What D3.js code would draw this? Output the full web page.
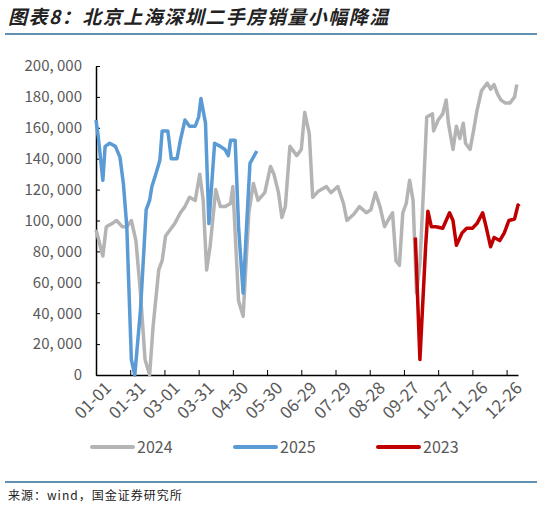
<!DOCTYPE html>
<html><head><meta charset="utf-8">
<script src="https://cdn.jsdelivr.net/npm/d3@7"></script>
<style>body{margin:0;background:#fff;}</style>
</head><body><div id="container"></div>
<script>
// day-of-year, value
let s2024 = [[0,94000],[6,77000],[9,96000],[14,98000],[18,100000],[23,96000],[27,96000],[31,100000],[35,87000],[39,53000],[43,10000],[47,0],[50,31000],[55,68000],[58,74000],[61,90000],[65,94000],[69,98000],[74,105000],[78,109000],[82,115000],[87,113000],[91,130000],[94,113000],[97,68000],[100,83000],[105,120000],[109,109000],[113,109000],[118,111000],[120,122000],[125,48000],[129,38000],[134,105000],[138,124000],[142,113000],[148,118000],[153,135000],[156,130000],[160,118000],[163,102000],[166,109000],[170,148000],[176,142000],[180,146000],[183,170000],[187,156000],[190,115000],[195,119000],[202,122000],[206,118000],[212,122000],[217,111000],[220,100000],[226,104000],[231,109000],[237,105000],[241,107000],[245,118000],[249,109000],[253,96000],[256,100000],[260,105000],[263,74000],[266,71000],[269,105000],[272,111000],[275,126000],[278,113000],[281,53000],[284,72000],[287,118000],[290,167000],[295,169000],[296,158000],[300,165000],[304,169000],[307,178000],[309,163000],[313,146000],[316,161000],[319,153000],[322,163000],[324,150000],[328,146000],[331,158000],[334,171000],[338,184000],[343,189000],[346,185000],[349,188000],[352,182000],[355,178000],[359,176000],[363,176000],[367,180000],[369,188000]];
let s2025 = [[0,165000],[2,154000],[6,126000],[8,148000],[12,150000],[17,148000],[21,141000],[24,124000],[27,96000],[31,10000],[34,0],[39,42000],[44,107000],[47,113000],[49,122000],[52,129000],[56,139000],[58,158000],[63,158000],[66,140000],[71,140000],[74,152000],[78,165000],[82,161000],[87,161000],[90,167000],[92,179000],[96,163000],[99,98000],[104,150000],[109,148000],[113,146000],[116,142000],[118,152000],[122,152000],[125,96000],[129,53000],[132,96000],[135,137000],[141,145000]];
let s2023 = [[280,89000],[284,10000],[289,83000],[291,106000],[294,96000],[298,96000],[304,95000],[310,105000],[313,100000],[316,84000],[321,92000],[325,95000],[330,95000],[334,98000],[339,105000],[342,96000],[346,83000],[349,89000],[354,87000],[358,92000],[362,100000],[367,101000],[370,110000],[371,109000]];
let tickLabels = ["01-01","01-31","03-01","03-31","04-30","05-30","06-29","07-29","08-28","09-27","10-27","11-26","12-26"];
let yTicks = [0,20000,40000,60000,80000,100000,120000,140000,160000,180000,200000];

let w = 541, h = 509;
let svg = d3.select("#container").append("svg").attr("width", w).attr("height", h);

svg.append("text").attr("x", 8).attr("y", 24)
  .style("font-family", "Noto Sans CJK SC").style("font-size", "19px")
  .style("letter-spacing", "1.5px")
  .style("font-weight", "bold").style("font-style", "italic").attr("fill", "#222")
  .text("图表8：北京上海深圳二手房销量小幅降温");
svg.append("line").attr("x1", 5).attr("x2", 537).attr("y1", 34).attr("y2", 34)
  .attr("stroke", "#2d6b96").attr("stroke-width", 1.5);
svg.append("line").attr("x1", 5).attr("x2", 537).attr("y1", 482).attr("y2", 482)
  .attr("stroke", "#2d6b96").attr("stroke-width", 1.5);
svg.append("text").attr("x", 8).attr("y", 500)
  .style("font-family", "Noto Sans CJK SC").style("font-size", "12px").attr("fill", "#222")
  .style("letter-spacing", "1px")
  .text("来源：wind，国金证券研究所");

let x = d3.scaleLinear().domain([0, 370]).range([96, 518]);
let y = d3.scaleLinear().domain([0, 200000]).range([375, 66]);

let yAxis = svg.append("g").attr("transform", "translate(96,0)")
  .call(d3.axisLeft(y).tickValues(yTicks).tickSize(4).tickSizeOuter(0)
    .tickFormat(d => d3.format(",")(d).replace(",", ", ")));
yAxis.selectAll("line").attr("x2", 4).attr("stroke", "#000");
yAxis.select(".domain").attr("stroke", "#000").attr("stroke-width", 1.5);
yAxis.selectAll("text").attr("x", -14).attr("fill", "#595959")
  .style("font-family", "Noto Sans CJK SC").style("font-size", "15px");

let xAxis = svg.append("g").attr("transform", "translate(0,375)")
  .call(d3.axisBottom(x).tickValues(d3.range(0, 361, 30)).tickSize(-5).tickSizeOuter(0)
    .tickFormat((d, i) => tickLabels[i]));
xAxis.select(".domain").attr("stroke", "#000").attr("stroke-width", 1.5);
xAxis.selectAll("line").attr("stroke", "#000");
xAxis.selectAll("text").attr("fill", "#595959")
  .style("font-family", "Noto Sans CJK SC").style("font-size", "17px")
  .attr("text-anchor", "end").attr("transform", "translate(6,4) rotate(-45)").attr("dy", "0.6em").attr("y", 4);

let line = d3.line().x(d => x(d[0])).y(d => y(d[1]));
[[s2024, "#b4b4b4"], [s2025, "#5b9bd5"], [s2023, "#c00000"]].forEach(s => {
  svg.append("path").datum(s[0]).attr("d", line).attr("fill", "none")
    .attr("stroke", s[1]).attr("stroke-width", 3.5).attr("stroke-linejoin", "round");
});

let legend = [["2024", "#b4b4b4", 92], ["2025", "#5b9bd5", 235], ["2023", "#c00000", 378]];
legend.forEach(l => {
  svg.append("line").attr("x1", l[2]).attr("x2", l[2] + 41).attr("y1", 447).attr("y2", 447)
    .attr("stroke", l[1]).attr("stroke-width", 4).attr("stroke-linecap", "round");
  svg.append("text").attr("x", l[2] + 45).attr("y", 453).attr("fill", "#595959")
    .style("font-family", "Noto Sans CJK SC").style("font-size", "16px").text(l[0]);
});
</script></body></html>
